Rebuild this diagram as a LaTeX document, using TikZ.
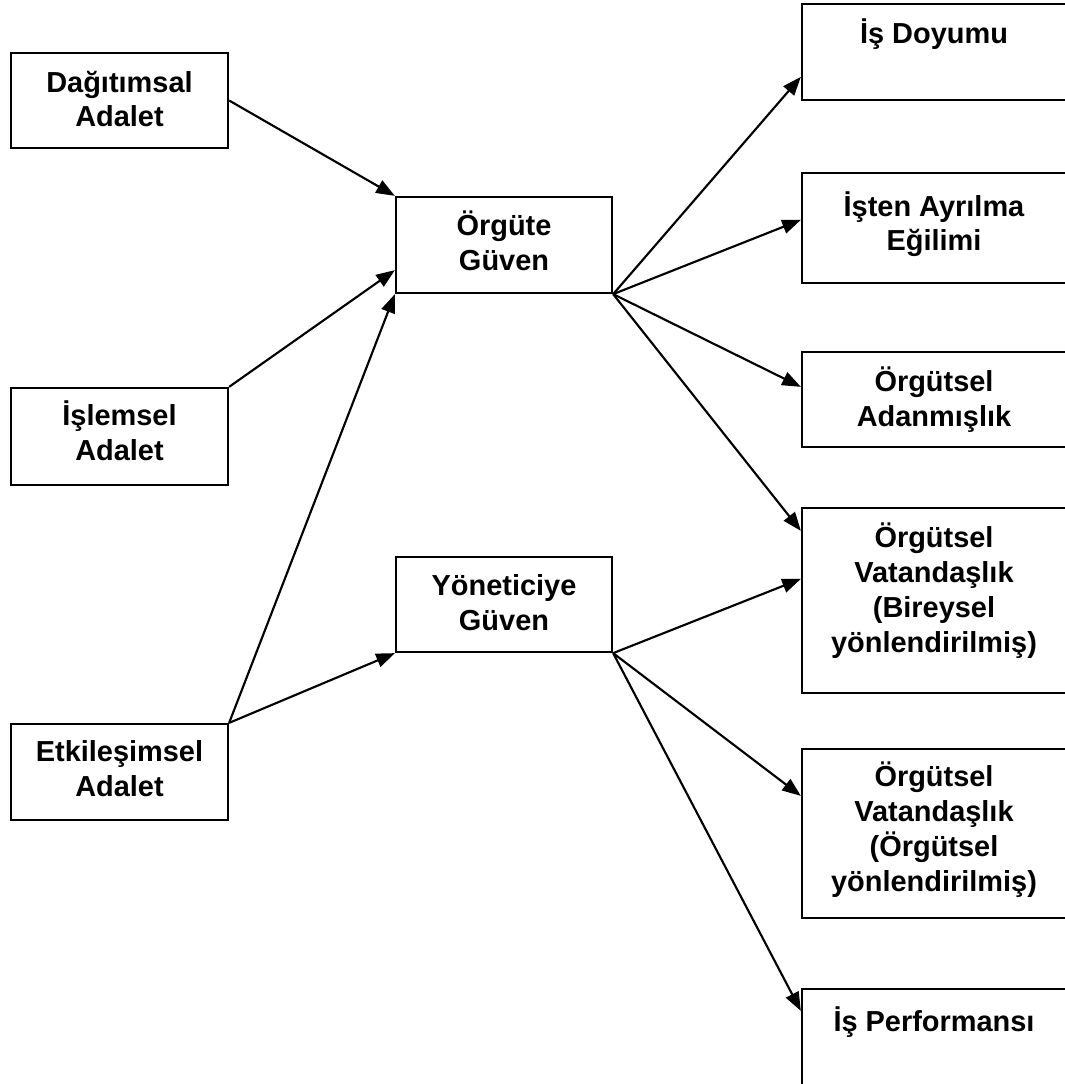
\documentclass[tikz,border=0pt]{standalone}
\usepackage{fontspec}
\setmainfont{Liberation Sans}
\usetikzlibrary{arrows.meta,calc}
\begin{document}
\begin{tikzpicture}[x=0.75pt,y=-0.75pt,
  box/.style={draw,line width=1.7pt,inner sep=0pt,rectangle},
  lbl/.style={font=\bfseries\fontsize{21.7}{26.2}\selectfont,align=center,inner sep=0pt},
  arr/.style={line width=1.6pt,-{Triangle[length=14pt,width=10.5pt]}}
]
\useasboundingbox (0,0) rectangle (1064,1084);
% left column
\node[box,minimum width=162.75pt,minimum height=71.25pt] (dag) at (119.5,100.5) {};
\node[box,minimum width=162.75pt,minimum height=72.75pt] (isl) at (119.5,436.5) {};
\node[box,minimum width=162.75pt,minimum height=72pt] (etk) at (119.5,772) {};
% middle column
\node[box,minimum width=162pt,minimum height=72pt] (org) at (504,245) {};
\node[box,minimum width=162pt,minimum height=71.25pt] (yon) at (504,604.5) {};
% right column
\node[box,minimum width=198pt,minimum height=72pt] (doy) at (934,52) {};
\node[box,minimum width=198pt,minimum height=82.5pt] (ayr) at (934,228) {};
\node[box,minimum width=198pt,minimum height=71.25pt] (ada) at (934,399.5) {};
\node[box,minimum width=198pt,minimum height=138.75pt] (bir) at (934,600.5) {};
\node[box,minimum width=198pt,minimum height=126.75pt] (orv) at (934,833.5) {};
\node[box,minimum width=198pt,minimum height=83.25pt] (per) at (934,1044.5) {};
% texts (anchored at the baseline of their last line)
\node[lbl,anchor=base] (dagt) at (119.5,127) {Dağıtımsal\\Adalet};
\node[lbl,anchor=base] (islt) at (119.5,460) {İşlemsel\\Adalet};
\node[lbl,anchor=base] (etkt) at (119.5,796) {Etkileşimsel\\Adalet};
\node[lbl,anchor=base] (orgt) at (504,270) {Örgüte\\Güven};
\node[lbl,anchor=base] (yont) at (504,630) {Yöneticiye\\Güven};
\node[lbl,anchor=base] (doyt) at (934,44) {İş Doyumu};
\node[lbl,anchor=base] (ayrt) at (934,251) {İşten Ayrılma\\Eğilimi};
\node[lbl,anchor=base] (adat) at (934,426) {Örgütsel\\Adanmışlık};
\node[lbl,anchor=base] (birt) at (934,652) {Örgütsel\\Vatandaşlık\\(Bireysel\\yönlendirilmiş)};
\node[lbl,anchor=base] (orvt) at (934,891) {Örgütsel\\Vatandaşlık\\(Örgütsel\\yönlendirilmiş)};
\node[lbl,anchor=base] (pert) at (934,1031) {İş Performansı};
% connectors
\draw[arr] (dag.east) -- (org.north west);
\draw[arr] (isl.north east) -- ([yshift=18pt]org.south west);
\draw[arr] (etk.north east) -- (org.south west);
\draw[arr] (etk.north east) -- (yon.south west);
\draw[arr] (org.south east) -- ([yshift=-55.5pt]doy.north west);
\draw[arr] (org.south east) -- ([yshift=-36pt]ayr.north west);
\draw[arr] (org.south east) -- ([yshift=-27pt]ada.north west);
\draw[arr] (org.south east) -- ([yshift=-18pt]bir.north west);
\draw[arr] (yon.south east) -- ([yshift=-54pt]bir.north west);
\draw[arr] (yon.south east) -- ([yshift=-36pt]orv.north west);
\draw[arr] (yon.south east) -- ([yshift=-17.25pt]per.north west);
\end{tikzpicture}
\end{document}
